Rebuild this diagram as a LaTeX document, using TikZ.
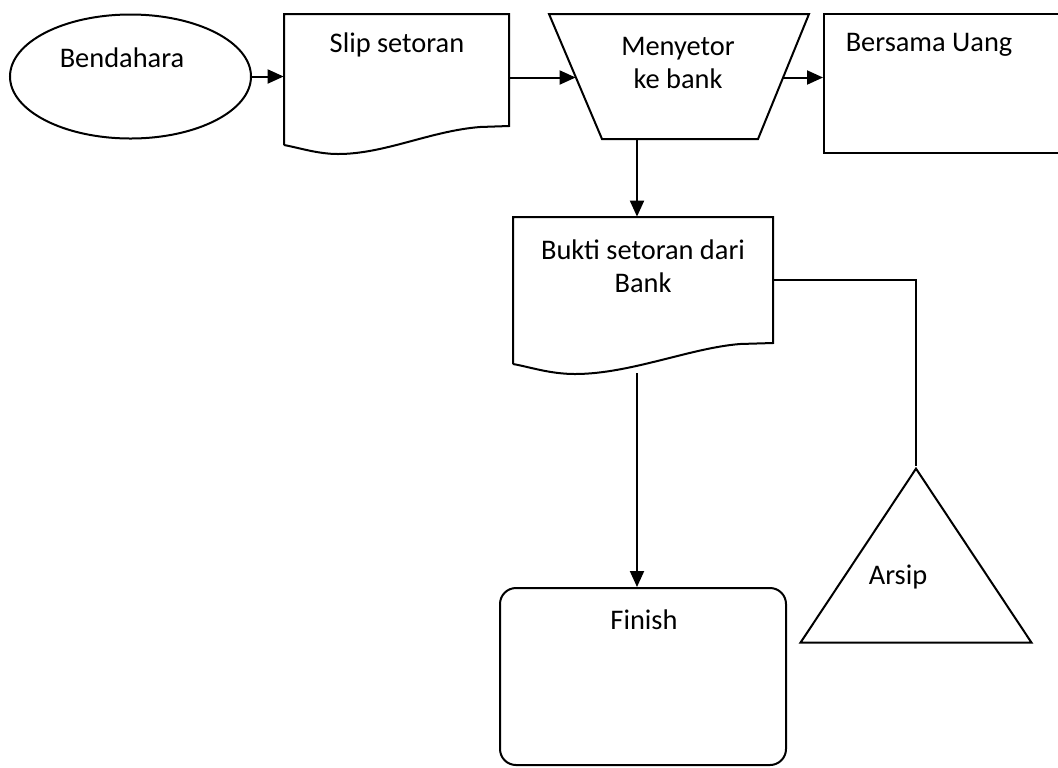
\documentclass[tikz,border=0pt]{standalone}
\usepackage{fontspec}
\setmainfont{Carlito}
\usepackage{tikz}
\usetikzlibrary{calc}
\usetikzlibrary{arrows.meta,shapes.geometric}
\tikzstyle{outline}=[solid,black,draw,line width=1pt]
\tikzstyle{boxtext}=[inner sep=0pt,align=center,font=\fontsize{14.2}{16.5}\selectfont]
\tikzstyle{area}=[rectangle,inner sep=0pt]
\tikzstyle{flow}=[solid,black,draw,line width=1pt,-{Triangle[length=8pt,width=7pt]}]
\tikzstyle{link}=[solid,black,draw,line width=1pt,-]

\begin{document}
\begin{tikzpicture}[x=0.5pt,y=-0.5pt]
	\useasboundingbox (0,0) rectangle (1058,767);
	% Bendahara
	\node[outline,ellipse,minimum width=120.5pt,minimum height=62pt,inner sep=0pt] (bendahara) at (130.5,76.5) {};
	\node[boxtext] (bendaharatext) at (122,58) {Bendahara};
	% Slip setoran
	\node[area,minimum width=112.5pt,minimum height=65.5pt] (slip) at (396.5,79.5) {};
	\path[outline] (284,145) -- (284,14) -- (509,14) -- (509,126) -- (480,127)
		.. controls (430,131) and (385,154) .. (338,154)
		.. controls (318,154) and (300,148) .. (284,145);
	\node[boxtext] (sliptext) at (397,45) {Slip setoran};
	% Menyetor ke bank
	\node[area,minimum width=130pt,minimum height=61.5pt] (bank) at (679,77.5) {};
	\path[outline] (549,14) -- (809,14) -- (758,139) -- (602,139) -- cycle;
	\node[boxtext] (banktext) at (678,62.5) {Menyetor\\ke bank};
	% Bersama Uang
	\node[outline,rectangle,minimum width=123pt,minimum height=69.5pt,inner sep=0pt] (uang) at (947,83.5) {};
	\node[boxtext] (uangtext) at (929,45) {Bersama Uang};
	% Bukti setoran
	\node[area,minimum width=130pt,minimum height=73.5pt] (bukti) at (643,290.5) {};
	\path[outline] (513,364) -- (513,217) -- (773,217) -- (773,343) -- (740,344)
		.. controls (690,348) and (630,374) .. (575,374)
		.. controls (550,374) and (530,367) .. (513,364);
	\node[boxtext] (buktitext) at (643,266.5) {Bukti setoran dari\\Bank};
	% Arsip
	\node[outline,isosceles triangle,shape border rotate=90,isosceles triangle stretches,minimum width=115.5pt,minimum height=87pt,inner sep=2pt,anchor=apex] (arsip) at (916,466) {\strut};
	\node[boxtext] (arsiptext) at (898,577) {Arsip};
	% Finish
	\node[outline,rectangle,rounded corners=8pt,minimum width=143pt,minimum height=88.5pt,inner sep=0pt] (finish) at (643,676.5) {};
	\node[boxtext] (finishtext) at (644,620) {Finish};

	\path[flow] (bendahara.east) -- (bendahara.east -| slip.west);
	\path[flow] (slip.east |- bank.west) -- ([xshift=13.5pt]bank.west);
	\path[flow] ([xshift=-13.5pt]bank.east) -- (bank.east -| uang.west);
	\path[flow] ([xshift=-21pt]bank.south) -- ([xshift=-21pt]bank.south |- bukti.north);
	\path[link] ([yshift=5.5pt]bukti.east) -| (arsip.apex);
	\path[flow] ([xshift=-3pt,yshift=-4.5pt]bukti.south) -- ([xshift=-3pt]finish.north);
\end{tikzpicture}
\end{document}
